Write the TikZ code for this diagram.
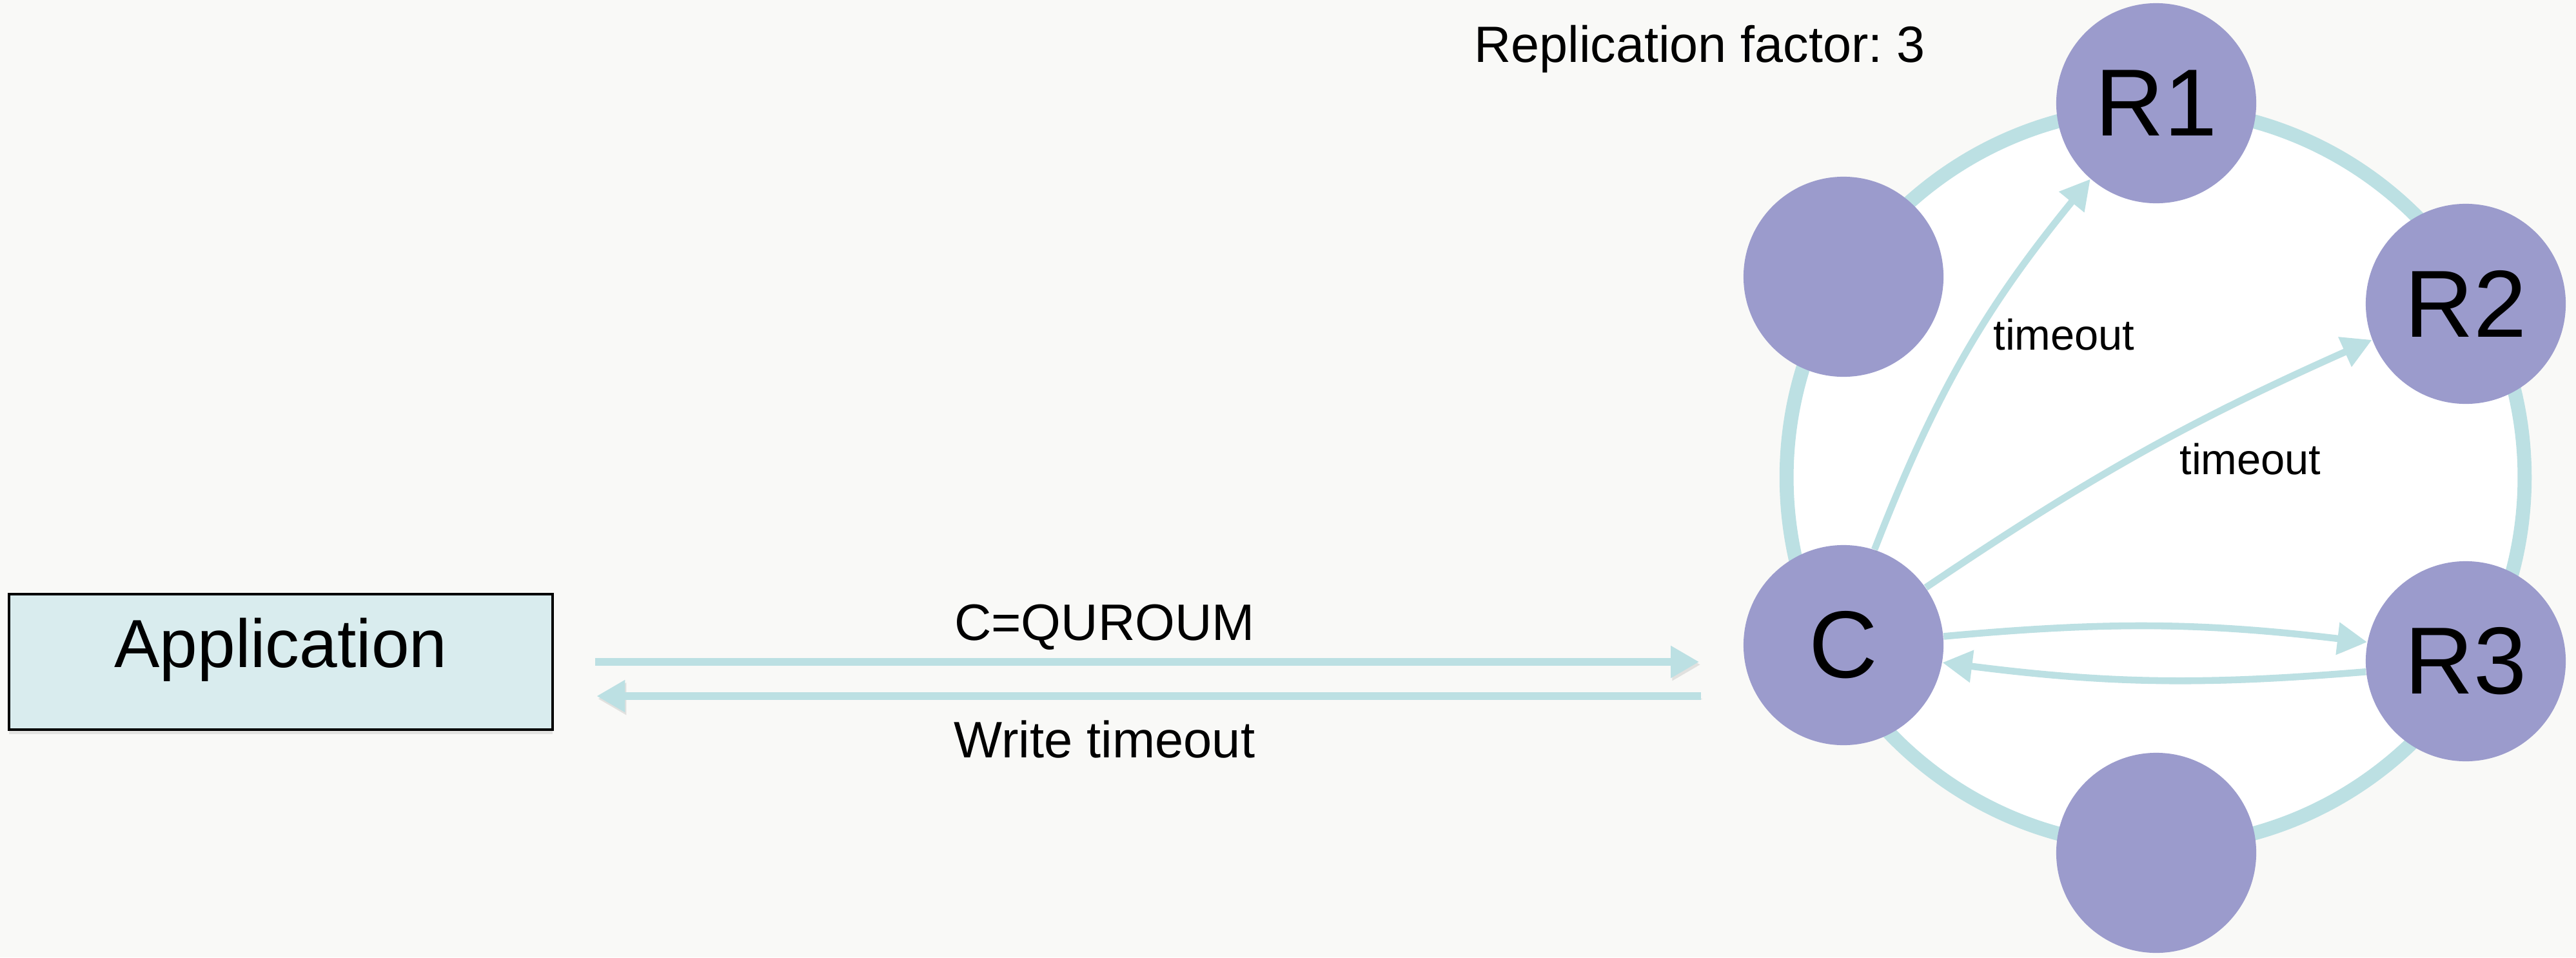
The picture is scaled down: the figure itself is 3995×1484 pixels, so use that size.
\documentclass[tikz,border=0pt]{standalone}
\usepackage{fontspec}
\setmainfont{Liberation Sans}
\usetikzlibrary{arrows.meta,shadows}
\definecolor{bgc}{HTML}{F9F9F7}
\definecolor{nodec}{HTML}{9B9BCC}
\definecolor{ringc}{HTML}{BCE0E3}
\definecolor{appc}{HTML}{D9ECEE}
\frenchspacing
\begin{document}
\begin{tikzpicture}[x=0.01cm,y=-0.01cm,
  member/.style={circle,fill=nodec,minimum size=3.1cm,inner sep=0pt,font=\fontsize{42}{50}\selectfont},
  softshadow/.style={preaction={draw=black!45,draw opacity=0.22,fill opacity=0.22,transform canvas={xshift=0.6pt,yshift=-1.2pt}}},
  flow/.style={draw=ringc,line width=3pt,-{Triangle[length=0.46cm,width=0.48cm]},softshadow},
  bigflow/.style={draw=ringc,line width=3.3pt,-{Triangle[length=0.44cm,width=0.47cm]},softshadow},
  lbl/.style={anchor=base,inner sep=0pt},
  midfont/.style={font=\fontsize{22.6}{27}\selectfont},
  smallfont/.style={font=\fontsize{19}{23}\selectfont},
  appbox/.style={draw=black,line width=1.1pt,fill=appc,minimum width=8.43cm,minimum height=2.1cm,
    inner sep=0pt,text height=0.6cm,text depth=0.44cm,font=\fontsize{30}{36}\selectfont,
    drop shadow={opacity=0.18,shadow xshift=0pt,shadow yshift=-0.07cm}},
]
\useasboundingbox (0,0) rectangle (3995,1484);
\fill[bgc] (0,0) rectangle (3995,1484);

% ring
\draw[ringc,line width=6.2pt,fill=white] (3343,740) circle[radius=5.72cm];

% ring members
\node[member] (r1) at (3344,160) {R1};
\node[member] (r2) at (3824,471) {R2};
\node[member] (r3) at (3824,1025) {R3};
\node[member] (bot) at (3344,1322) {};
\node[member] (c) at (2859,1000) {C};
\node[member] (ul) at (2859,429) {};

% application
\node[appbox] (app) at (435.5,1026) {Application};

% horizontal arrows
\coordinate (lowA) at ([yshift=-0.53cm]app.east);
\draw[bigflow,shorten <=0.64cm,shorten >=0.68cm] (app.east) -- (app.east -| c.west);
\draw[bigflow,shorten <=0.65cm,shorten >=0.66cm] (lowA -| c.west) -- (lowA);

% inner arrows
\draw[flow] (c.72) to[bend left=9] (r1.229);
\draw[flow] (c.35) to[bend left=5] (r2.201);
\draw[flow] (c.5) to[bend left=6] (r3.169);
\draw[flow] (r3.186) to[bend left=6] (c.350);

% labels
\node[lbl,midfont] (q) at (1713,992) {C=QUROUM};
\node[lbl,midfont] (wt) at (1713,1174) {Write timeout};
\node[lbl,font=\fontsize{22.5}{27}\selectfont] (rf) at (2636,96) {Replication factor: 3};
\node[lbl,smallfont] (t1) at (3201,542) {timeout};
\node[lbl,smallfont] (t2) at (3490,735) {timeout};
\end{tikzpicture}
\end{document}
